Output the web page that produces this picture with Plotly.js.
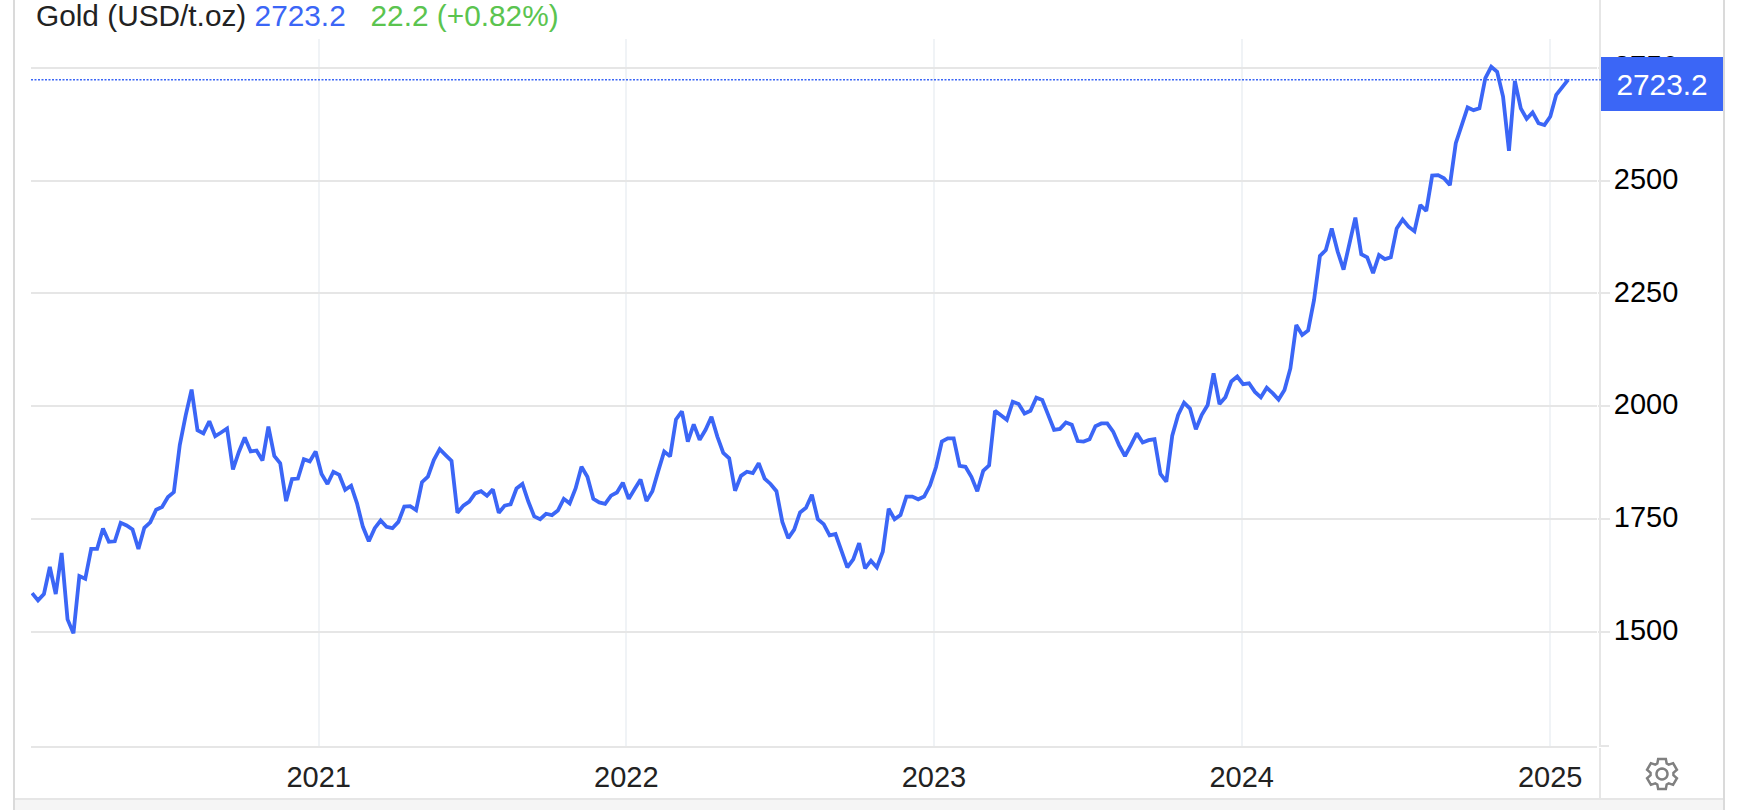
<!DOCTYPE html>
<html>
<head>
<meta charset="utf-8">
<script src="https://cdn.plot.ly/plotly-3.0.1.min.js"></script>
<style>html,body{margin:0;padding:0;background:#fff;overflow:hidden}#chart{width:1738px;height:810px}</style>
</head>
<body>
<div id="chart"></div>
<script>
// Weekly gold price, USD/t.oz
const firstWeek = '2020-01-27';
const goldPrices = [
1586,1570,1584,1644,1584,1675,1528,1497,1624,1618,
1684,1684,1729,1700,1701,1742,1736,1727,1684,1731,
1743,1771,1777,1799,1810,1914,1980,2037,1947,1940,
1967,1934,1942,1951,1860,1899,1931,1900,1902,1880,
1955,1890,1874,1790,1839,1840,1883,1878,1900,1850,
1828,1855,1848,1815,1824,1785,1733,1701,1730,1747,
1733,1730,1744,1778,1779,1770,1832,1844,1881,1905,
1892,1879,1764,1780,1789,1807,1812,1802,1816,1764,
1780,1783,1818,1828,1789,1756,1750,1762,1759,1769,
1795,1785,1818,1866,1844,1795,1787,1784,1802,1809,
1831,1795,1817,1838,1790,1812,1857,1900,1889,1971,
1989,1922,1960,1926,1948,1977,1933,1897,1885,1813,
1846,1855,1852,1874,1840,1828,1812,1744,1708,1727,
1765,1775,1804,1750,1739,1714,1717,1678,1643,1661,
1697,1641,1658,1643,1678,1773,1750,1759,1800,1800,
1794,1800,1825,1865,1922,1929,1929,1868,1866,1844,
1812,1857,1869,1990,1981,1970,2010,2005,1984,1990,
2019,2014,1981,1948,1950,1964,1959,1923,1922,1927,
1956,1962,1962,1944,1914,1890,1914,1940,1920,1925,
1927,1850,1833,1935,1981,2008,1995,1949,1981,2003,
2073,2005,2020,2055,2066,2049,2051,2032,2020,2041,
2029,2015,2036,2084,2180,2158,2168,2235,2333,2346,
2394,2343,2303,2361,2418,2337,2330,2295,2335,2326,
2330,2394,2414,2398,2388,2446,2433,2511,2512,2505,
2490,2583,2625,2662,2656,2660,2727,2752,2741,2686,
2566,2721,2660,2637,2651,2627,2623,2642,2690,2706,
2723.2];
const yearTicks = ['2021-01-01','2022-01-01','2023-01-01','2024-01-01','2025-01-01'];
const yearLabels = ['2021','2022','2023','2024','2025'];
const priceTicks = [1500,1750,2000,2250,2500,2750];
const seriesName = 'Gold (USD/t.oz)';
const lastPrice = '2723.2';
const lastChange = '22.2 (+0.82%)';
const lastValue = 2723.2;

const BLUE = '#3B66F6', GREEN = '#5BC44F', GRID = '#E6E6E6', VGRID = '#F0F3F6', FONT = '"Liberation Sans", Arial, sans-serif';
const W = 1738, H = 810, L = 31, R = 1597, T = 39, B = 746;
const px = x => (x - L) / (R - L);
const py = y => (B - y) / (B - T);

function hline(x0, x1, y, color, width) {
  return {type:'line', xref:'paper', yref:'paper', x0:px(x0), x1:px(x1), y0:py(y), y1:py(y), line:{color, width}, layer:'above'};
}
function vline(x, y0, y1, color, width) {
  return {type:'line', xref:'paper', yref:'paper', x0:px(x), x1:px(x), y0:py(y0), y1:py(y1), line:{color, width}, layer:'above'};
}
function gearPath(cx, cy) {
  const teeth = 6, outer = 15.5, inner = 11.5, hole = 5.5;
  let d = '';
  for (let i = 0; i < teeth; i++) {
    const a = -Math.PI / 2 + i * 2 * Math.PI / teeth;
    const pts = [[inner, a - 0.42], [outer, a - 0.25], [outer, a + 0.25], [inner, a + 0.42]];
    pts.forEach((p, j) => {
      const X = px(cx + p[0] * Math.cos(p[1])), Y = py(cy + p[0] * Math.sin(p[1]));
      d += ((i === 0 && j === 0) ? 'M' : 'L') + X + ',' + Y + ' ';
    });
  }
  d += 'Z ';
  for (let k = 0; k <= 24; k++) {
    const a = k * 2 * Math.PI / 24;
    d += (k === 0 ? 'M' : 'L') + px(cx + hole * Math.cos(a)) + ',' + py(cy + hole * Math.sin(a)) + ' ';
  }
  return d + 'Z';
}

const traces = [{
  type:'scatter', mode:'lines', name:seriesName,
  x0:firstWeek, dx:605543000, y:goldPrices,
  line:{color:BLUE, width:3.8, shape:'linear'}, hoverinfo:'skip', showlegend:false
}];

const layout = {
  width:W, height:H, margin:{l:L, r:W-R, t:T, b:H-B, pad:0},
  paper_bgcolor:'#fff', plot_bgcolor:'#fff', showlegend:false,
  font:{family:FONT, size:29, color:'#222'},
  title:{
    text:seriesName + ' <span style="color:'+BLUE+'">' + lastPrice + '</span>\u00a0\u00a0\u00a0<span style="color:'+GREEN+'">' + lastChange + '</span>',
    font:{family:FONT, size:29.8, color:'#222'},
    x:px(36), xref:'paper', xanchor:'left', y:1-5/H, yref:'container', yanchor:'top', pad:{l:0,t:0,b:0,r:0}
  },
  xaxis:{
    type:'date', range:['2020-01-25 16:48','2025-02-25 14:24'],
    tickmode:'array', tickvals:yearTicks, ticktext:yearLabels,
    tickfont:{family:FONT, size:29, color:'#222'}, ticks:'', ticklabelstandoff:4,
    showgrid:true, gridcolor:VGRID, gridwidth:2, zeroline:false,
    showline:true, linecolor:GRID, linewidth:2, layer:'below traces', fixedrange:true
  },
  yaxis:{
    side:'right', range:[1247.5,2813.7],
    tickmode:'array', tickvals:priceTicks, ticktext:priceTicks.map(String),
    tickfont:{family:FONT, size:29, color:'#000'}, ticklabelstandoff:-2, ticklabelshift:-2,
    ticks:'outside', ticklen:12, tickwidth:2, tickcolor:GRID,
    showgrid:true, gridcolor:GRID, gridwidth:2, zeroline:false, showline:false, fixedrange:true
  },
  shapes:[
    {type:'rect', xref:'paper', yref:'paper', x0:px(14), x1:px(1724), y0:py(799), y1:py(810), fillcolor:'#F5F5F5', line:{width:0}, layer:'below'},
    hline(14, 1724, 799, GRID, 2),
    vline(14, 0, 810, '#DADADA', 2),
    vline(1724, 0, 810, '#DADADA', 2),
    vline(1600, 0, 745, GRID, 2),
    vline(1600, 748, 799, GRID, 2),
    hline(1599, 1609, 746, GRID, 2),
    {type:'line', xref:'paper', yref:'y', x0:0, x1:px(1601), y0:lastValue, y1:lastValue, line:{color:BLUE, width:1.5, dash:'2px,1.5px'}, layer:'above'},
    {type:'path', xref:'paper', yref:'paper', path:gearPath(1662, 774), line:{color:'#808080', width:2.5}, fillcolor:'rgba(0,0,0,0)', layer:'above'}
  ],
  annotations:[{
    xref:'paper', yref:'paper', x:px(1662), y:py(84), xanchor:'center', yanchor:'middle',
    text:lastPrice, showarrow:false, width:122, height:54, align:'center', valign:'middle',
    bgcolor:BLUE, borderpad:0, borderwidth:0, font:{family:FONT, size:29.8, color:'#fff'}
  }]
};

Plotly.newPlot('chart', traces, layout, {staticPlot:true, displayModeBar:false, responsive:false});
</script>
</body>
</html>
